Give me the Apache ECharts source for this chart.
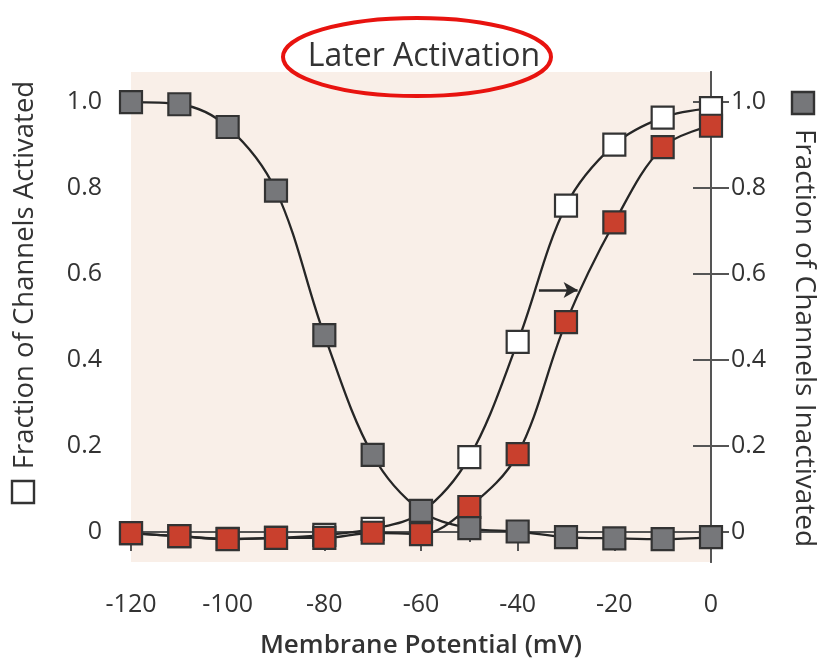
<!DOCTYPE html>
<html>
<head>
<meta charset="utf-8">
<script src="https://cdn.jsdelivr.net/npm/echarts@6/dist/echarts.min.js"></script>
<style>html,body{margin:0;padding:0;background:#fff}#c{width:817px;height:661px}</style>
</head>
<body>
<div id="c"></div>
<script>
// Membrane potential (mV)
var potentials = [-120, -110, -100, -90, -80, -70, -60, -50, -40, -30, -20, -10, 0];
// Fraction of channels inactivated (grey squares, right axis)
var inactivated = [1.0, 0.995, 0.942, 0.794, 0.458, 0.179, 0.049, 0.009, 0.001, -0.012, -0.015, -0.017, -0.012];
// Fraction of channels activated, control (white squares)
var activatedControl = [-0.003, -0.01, -0.016, -0.014, -0.007, 0.007, 0.045, 0.174, 0.442, 0.759, 0.901, 0.964, 0.986];
// Fraction of channels activated, later activation (red squares)
var activatedLater = [-0.003, -0.01, -0.017, -0.014, -0.014, -0.002, -0.005, 0.058, 0.181, 0.488, 0.72, 0.895, 0.945];
// Tick labels
var yTicks = [0, 0.2, 0.4, 0.6, 0.8, 1.0];
var xTicks = [-120, -100, -80, -60, -40, -20, 0];
// Shift arrow (start / end in data coordinates)
var arrowFrom = [-35.6, 0.563];
var arrowTo = [-27.6, 0.563];

var FONT = 'Open Sans';
var TXT = '#333333';
var AX = '#555555';

function pairs(ys) { return potentials.map(function (x, i) { return [x, ys[i]]; }); }
function yFmt(v) { return v === 0 ? '0' : v.toFixed(1); }

function yAxisDef(pos) {
  return {
    type: 'value', position: pos, min: -0.07, max: 1.07,
    splitLine: { show: false },
    axisLine: { show: true, lineStyle: { color: AX, width: 2 } },
    axisTick: { show: true, customValues: yTicks, length: 18, lineStyle: { color: AX, width: 2 } },
    axisLabel: { customValues: yTicks, formatter: yFmt, margin: pos === 'left' ? 29 : 20, color: TXT, fontSize: 25, fontFamily: FONT }
  };
}

function sq(fill) {
  return {
    type: 'line', smooth: 0.35, symbol: 'rect', symbolSize: 22,
    lineStyle: { color: '#262626', width: 2.3 },
    itemStyle: { color: fill, borderColor: '#333333', borderWidth: 2.2 },
    emphasis: { disabled: true }
  };
}

var sWhite = sq('#ffffff'); sWhite.data = pairs(activatedControl); sWhite.z = 2;
var sRed = sq('#c9402d'); sRed.data = pairs(activatedLater); sRed.z = 3;
sRed.markLine = {
  silent: true, symbol: ['none', 'arrow'], symbolSize: [12, 14],
  lineStyle: { color: '#2b2b2b', width: 2.5, type: 'solid' },
  label: { show: false },
  data: [[{ coord: arrowFrom }, { coord: arrowTo }]]
};
var sGrey = sq('#76777a'); sGrey.data = pairs(inactivated); sGrey.z = 4; sGrey.yAxisIndex = 1;

var chart = echarts.init(document.getElementById('c'));
chart.setOption({
  animation: false,
  backgroundColor: '#ffffff',
  title: {
    text: 'Later Activation', left: 419, top: 36, textAlign: 'center',
    textStyle: { fontSize: 32, fontWeight: 500, color: '#333333', fontFamily: FONT }
  },
  grid: { left: 131, right: 106, top: 72, bottom: 99, containLabel: false, outerBoundsMode: 'none', show: true, backgroundColor: '#f9efe8', borderWidth: 0 },
  xAxis: {
    type: 'value', min: -120, max: 0, interval: 20,
    name: 'Membrane Potential (mV)', nameLocation: 'middle', nameGap: 71,
    nameTextStyle: { fontSize: 26, fontWeight: 600, color: '#333333', fontFamily: FONT },
    splitLine: { show: false },
    axisLine: { show: true, lineStyle: { color: AX, width: 2 } },
    axisTick: { show: true, length: 19, lineStyle: { color: AX, width: 2 } },
    minorTick: { show: true, splitNumber: 2, length: 10, lineStyle: { color: AX, width: 2 } },
    axisLabel: { customValues: xTicks, margin: 30, color: TXT, fontSize: 25, fontFamily: FONT }
  },
  yAxis: [yAxisDef('left'), yAxisDef('right')],
  series: [sWhite, sRed, sGrey],
  graphic: [
    { type: 'ellipse', z: 100, shape: { cx: 417, cy: 57, rx: 134, ry: 39 }, style: { fill: 'none', stroke: '#e8130f', lineWidth: 4 } },
    { type: 'text', x: 25, y: 275, rotation: Math.PI / 2,
      style: { text: 'Fraction of Channels Activated', fill: TXT, font: '27.5px "Open Sans"', align: 'center', verticalAlign: 'middle' } },
    { type: 'rect', shape: { x: 12, y: 481, width: 22, height: 22 }, style: { fill: '#ffffff', stroke: '#333333', lineWidth: 2.4 } },
    { type: 'text', x: 804, y: 338, rotation: -Math.PI / 2,
      style: { text: 'Fraction of Channels Inactivated', fill: TXT, font: '28px "Open Sans"', align: 'center', verticalAlign: 'middle' } },
    { type: 'rect', shape: { x: 792, y: 92, width: 22, height: 22 }, style: { fill: '#76777a', stroke: '#333333', lineWidth: 2.4 } }
  ]
});
</script>
</body>
</html>
